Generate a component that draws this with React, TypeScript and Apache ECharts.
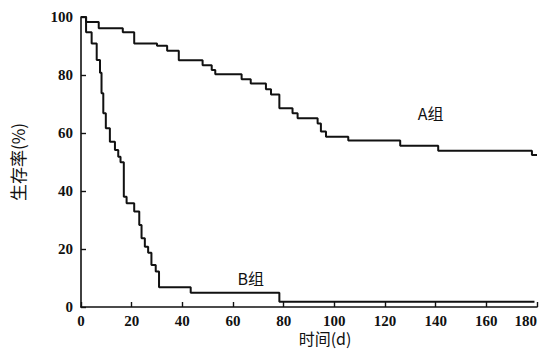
import React, { useEffect, useRef } from "react";
import * as echarts from "echarts";

const xTicks = [0, 20, 40, 60, 80, 100, 120, 140, 160, 180];
const yTicks = [0, 20, 40, 60, 80, 100];

const groupATimes = [0, 2, 7, 16.5, 21, 30, 34, 38.6, 48, 51.6, 53, 63.4, 67, 73, 75, 78.3, 83.5, 85.5, 93.4, 94.7, 96.7, 105.5, 126, 141, 178, 180];
const groupAValues = [100, 98.3, 96.1, 94.7, 90.9, 90.1, 88.4, 85.1, 83.4, 81.7, 80.3, 78.5, 77.1, 75.1, 73.3, 68.5, 66.8, 65.1, 63.3, 60.5, 58.7, 57.4, 55.6, 53.9, 52.4, 52.4];

const groupBTimes = [0, 2, 4.2, 6.2, 7.5, 8.1, 8.8, 9.8, 11.4, 13.4, 14.7, 15.6, 16.9, 18, 21, 23, 23.9, 25.2, 26.5, 27.8, 29.5, 30.8, 43.3, 78.3, 179];
const groupBValues = [100, 94.7, 90.9, 85.2, 80.8, 73.7, 66.8, 61.6, 57, 54.1, 51.8, 49.9, 38, 35.8, 32.9, 28.3, 23.7, 20.8, 18.7, 14.5, 12.2, 6.8, 4.9, 1.8, 1.8];

const labelA = { text: "A组", x: 138, y: 67 };
const labelB = { text: "B组", x: 67, y: 10 };

const xName = "时间(d)";
const yName = "生存率(%)";

const serif = "Liberation Serif";
const cjk = "Noto Sans CJK SC";

export default function App() {
  const ref = useRef<HTMLDivElement>(null);
  useEffect(() => {
    if (!ref.current) return;
    const chart = echarts.init(ref.current, undefined, { renderer: "svg" });
    const dataA = groupATimes.map((t, i) => [t, groupAValues[i]]);
    const dataB = groupBTimes.map((t, i) => [t, groupBValues[i]]);
    const mk = (l: { text: string; x: number; y: number }) => ({
      symbol: "circle",
      symbolSize: 0,
      silent: true,
      data: [{ coord: [l.x, l.y], value: l.text }],
      label: {
        show: true,
        position: "inside",
        formatter: l.text,
        color: "#111",
        fontSize: 16,
        fontFamily: cjk,
      },
    });
    const tickLabel = {
      show: true,
      color: "#111",
      fontSize: 15,
      lineHeight: 15,
      fontWeight: "bold",
      fontFamily: serif,
    };
    chart.setOption({
      animation: false,
      backgroundColor: "#fff",
      grid: { left: 81, right: 9, top: 17, bottom: 44, outerBoundsMode: "none", containLabel: false },
      xAxis: {
        type: "value",
        min: 0,
        max: 180,
        interval: 20,
        name: xName,
        nameLocation: "middle",
        nameGap: 23,
        nameMoveOverlap: false,
        nameTextStyle: { fontSize: 16, lineHeight: 16, fontFamily: cjk, color: "#111", padding: [0, 0, 0, 32] },
        axisLine: { show: true, onZero: false, lineStyle: { color: "#111", width: 1.6 } },
        axisTick: { show: true, inside: true, length: 5, lineStyle: { color: "#111", width: 1.4 } },
        axisLabel: {
          ...tickLabel,
          margin: 6,
          alignMaxLabel: "right",
          formatter: (v: number) => (xTicks.includes(v) ? String(v) : ""),
        },
        splitLine: { show: false },
      },
      yAxis: {
        type: "value",
        min: 0,
        max: 100,
        interval: 20,
        name: yName,
        nameLocation: "middle",
        nameRotate: 90,
        nameGap: 55,
        nameMoveOverlap: false,
        nameTextStyle: { fontSize: 17, fontFamily: cjk, color: "#111" },
        axisLine: { show: true, lineStyle: { color: "#111", width: 1.6 } },
        axisTick: { show: true, inside: true, length: 5, lineStyle: { color: "#111", width: 1.4 } },
        axisLabel: {
          ...tickLabel,
          margin: 8,
          formatter: (v: number) => (yTicks.includes(v) ? String(v) : ""),
        },
        splitLine: { show: false },
      },
      series: [
        {
          type: "line",
          step: "end",
          data: dataA,
          symbol: "none",
          lineStyle: { color: "#111", width: 2 },
          markPoint: mk(labelA),
        },
        {
          type: "line",
          step: "end",
          data: dataB,
          symbol: "none",
          lineStyle: { color: "#111", width: 2 },
          markPoint: mk(labelB),
        },
      ],
    });
    return () => chart.dispose();
  }, []);
  return <div ref={ref} style={{ width: 546, height: 351, position: "absolute", left: 0, top: 0 }} />;
}
